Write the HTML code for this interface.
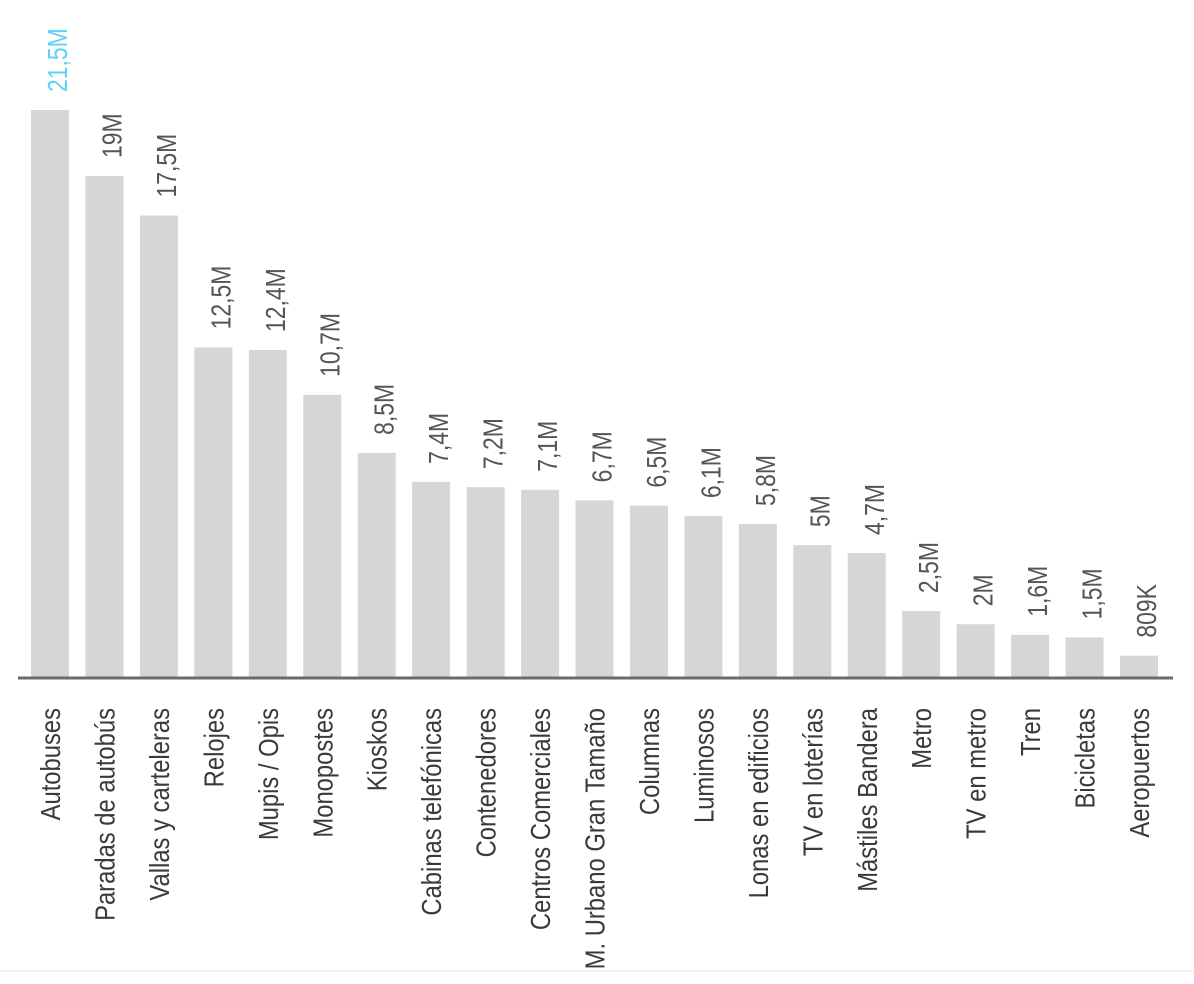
<!DOCTYPE html>
<html><head><meta charset="utf-8"><style>
html,body{margin:0;padding:0;background:#fff;}
svg{display:block;}
text{font-family:"Liberation Sans Narrow","Liberation Sans",sans-serif;font-size:28px;}
</style></head><body>
<svg width="1194" height="984" viewBox="0 0 1194 984" xmlns="http://www.w3.org/2000/svg">
<g id="bars" fill="#d6d6d6"></g>
<line x1="18" y1="678" x2="1173" y2="678" stroke="#6b6b6b" stroke-width="3"/>
<line x1="0" y1="971" x2="1194" y2="971" stroke="#f2f2f2" stroke-width="2"/>
<g id="lbl"></g>
</svg>
<script>
var d=[["Autobuses",21.5,"21,5M"],["Paradas de autobús",19,"19M"],["Vallas y carteleras",17.5,"17,5M"],["Relojes",12.5,"12,5M"],["Mupis / Opis",12.4,"12,4M"],["Monopostes",10.7,"10,7M"],["Kioskos",8.5,"8,5M"],["Cabinas telefónicas",7.4,"7,4M"],["Contenedores",7.2,"7,2M"],["Centros Comerciales",7.1,"7,1M"],["M. Urbano Gran Tamaño",6.7,"6,7M"],["Columnas",6.5,"6,5M"],["Luminosos",6.1,"6,1M"],["Lonas en edificios",5.8,"5,8M"],["TV en loterías",5,"5M"],["Mástiles Bandera",4.7,"4,7M"],["Metro",2.5,"2,5M"],["TV en metro",2,"2M"],["Tren",1.6,"1,6M"],["Bicicletas",1.5,"1,5M"],["Aeropuertos",0.809,"809K"]];
var ns="http://www.w3.org/2000/svg",B=document.getElementById("bars"),L=document.getElementById("lbl");
d.forEach(function(r,i){
 var x=31+i*54.45,h=r[1]*26.37,top=677-h;
 var re=document.createElementNS(ns,"rect");re.setAttribute("x",x);re.setAttribute("y",top);re.setAttribute("width",38);re.setAttribute("height",h);B.appendChild(re);
 var cx=x+19;
 var t=document.createElementNS(ns,"text");t.setAttribute("transform","translate("+(cx+10)+",708) rotate(-90) scale(0.85,1)");t.setAttribute("text-anchor","end");t.setAttribute("fill","#3a3a3a");t.textContent=r[0];L.appendChild(t);
 var v=document.createElementNS(ns,"text");v.setAttribute("transform","translate("+(cx+17)+","+(top-18)+") rotate(-90) scale(0.82,1)");v.setAttribute("fill",i==0?"#5fd0f8":"#555");v.textContent=r[2];L.appendChild(v);
});
</script>
</body></html>
